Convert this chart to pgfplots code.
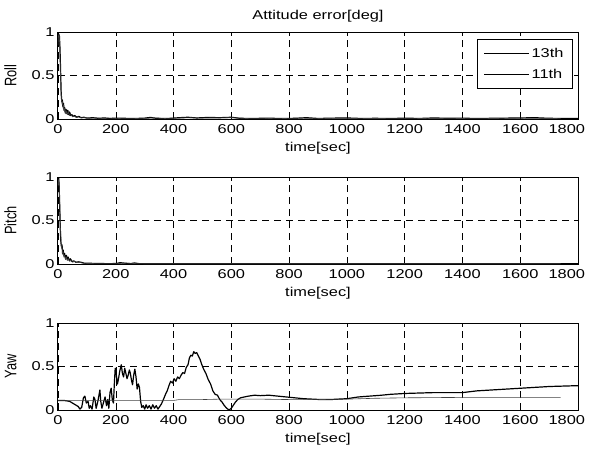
\documentclass[border=0pt]{standalone}
\usepackage{fontspec}
\setmainfont{Liberation Sans}[FakeStretch=1.28]
\newfontfamily\plainfont{Liberation Sans}
\usepackage{graphicx}
\usepackage{pgfplots}
\pgfplotsset{compat=1.18}
\pgfplotsset{
  myax/.style={
    scale only axis, width=520bp, height=87bp,
    xmin=0, xmax=1800, ymin=0, ymax=1,
    xtick={0,200,...,1800},
    xticklabels={0,200,400,600,800,1000,1200,1400,1600,\hbox to 0pt{\hss 1800\kern -7bp}},
    ytick={0,0.5,1}, yticklabels={0,0.5,1},
    grid=major,
    major grid style={black, line width=0.5bp, dash pattern=on 7bp off 5bp},
    tick align=inside, major tick length=4bp,
    tick style={black, line width=0.5bp},
    axis line style={line width=1bp},
    /pgf/number format/assume math mode=true,
    ticklabel style={font=\fontsize{12.8bp}{15bp}\selectfont},
    xticklabel style={yshift=-2bp},
    label style={font=\fontsize{12.8bp}{15bp}\selectfont},
    title style={font=\fontsize{12.8bp}{15bp}\selectfont},
    xlabel={time[sec]},
    xlabel style={yshift=-2bp},
    ylabel style={at={(axis description cs:-0.073,0.5)}, anchor=south},
  },
  s13/.style={black, line width=1.2bp, line join=round},
  s11/.style={black!75, line width=0.6bp, line join=round},
}
\begin{document}
\begin{tikzpicture}
\useasboundingbox (-58bp,0bp) rectangle (536bp,-456bp);
% ---------------- Roll
\begin{axis}[myax, at={(0bp,-32bp)}, anchor=north west,
  title={Attitude error[deg]},
  ylabel={\plainfont\scalebox{1}[1.3]{Roll}},
  legend style={at={(0.99,0.92)}, anchor=north east, draw=black, line width=0.6bp,
    font=\fontsize{12.8bp}{15bp}\selectfont, row sep=6bp, inner xsep=7bp, inner ysep=7bp},
  legend cell align=left,
  legend image code/.code={\draw[#1, line width=0.5bp, black] (0bp,0bp) -- (45bp,0bp);},
]
\addplot[s13] coordinates {(0,0.9) (2,0.98) (5,0.95) (7,0.8) (9,0.55) (11,0.3) (13,0.2) (15,0.22) (17,0.14) (19,0.18) (21,0.1) (23,0.13) (25,0.07) (28,0.11) (31,0.06) (34,0.1) (37,0.05) (40,0.08) (44,0.04) (48,0.05) (52,0.03) (58,0.04) (65,0.02) (72,0.03) (80,0.015) (90,0.02) (100,0.01) (120,0.015) (140,0.008) (160,0.012) (180,0.006) (200,0.01) (230,0.008) (260,0.005) (300,0.01) (320,0.018) (340,0.008) (380,0.006) (420,0.015) (450,0.02) (480,0.012) (520,0.018) (560,0.015) (600,0.02) (630,0.008) (680,0.006) (720,0.01) (780,0.005) (820,0.008) (860,0.015) (900,0.006) (950,0.01) (1000,0.012) (1050,0.006) (1100,0.008) (1150,0.005) (1200,0.01) (1250,0.006) (1300,0.012) (1350,0.008) (1400,0.01) (1450,0.005) (1500,0.008) (1550,0.01) (1600,0.012) (1650,0.015) (1700,0.008) (1750,0.006) (1800,0.005)};
\addlegendentry{13th}
\addplot[s11] coordinates {(0,0.85) (2,0.96) (4,0.97) (6,0.85) (8,0.6) (10,0.35) (12,0.22) (14,0.17) (16,0.2) (18,0.12) (20,0.16) (22,0.09) (24,0.12) (27,0.06) (30,0.09) (33,0.05) (36,0.08) (40,0.04) (45,0.05) (50,0.025) (56,0.03) (62,0.02) (70,0.025) (80,0.012) (95,0.015) (110,0.008) (130,0.012) (150,0.006) (175,0.01) (210,0.006) (250,0.008) (290,0.004) (330,0.012) (370,0.006) (410,0.01) (460,0.014) (500,0.01) (550,0.012) (600,0.015) (650,0.006) (700,0.008) (760,0.004) (840,0.01) (920,0.005) (980,0.008) (1040,0.005) (1120,0.006) (1200,0.008) (1280,0.005) (1360,0.007) (1440,0.004) (1520,0.006) (1600,0.01) (1680,0.006) (1740,0.005)};
\addlegendentry{11th}
\end{axis}
% ---------------- Pitch
\begin{axis}[myax, at={(0bp,-177bp)}, anchor=north west,
  ylabel={\plainfont\scalebox{1}[1.3]{Pitch}},
]
\addplot[s13] coordinates {(0,0.95) (2,1.0) (4,0.9) (6,0.65) (8,0.4) (10,0.25) (12,0.2) (14,0.22) (16,0.12) (18,0.16) (20,0.1) (23,0.12) (26,0.06) (29,0.1) (32,0.05) (35,0.08) (39,0.04) (43,0.06) (48,0.03) (55,0.035) (62,0.02) (70,0.025) (80,0.02) (90,0.01) (110,0.008) (140,0.006) (170,0.004) (200,0.005) (215,0.015) (230,0.01) (250,0.004) (265,0.012) (280,0.004) (320,0.003) (400,0.004) (500,0.003) (600,0.004) (700,0.003) (800,0.003) (900,0.004) (1000,0.003) (1100,0.003) (1200,0.004) (1300,0.003) (1400,0.003) (1500,0.004) (1600,0.003) (1700,0.003) (1800,0.003)};
\addplot[s11] coordinates {(0,0.9) (2,0.97) (4,0.95) (6,0.7) (8,0.45) (10,0.3) (12,0.18) (14,0.2) (16,0.11) (18,0.14) (20,0.08) (23,0.1) (26,0.05) (29,0.08) (32,0.04) (36,0.06) (40,0.03) (45,0.04) (50,0.02) (58,0.03) (66,0.015) (75,0.02) (85,0.01) (100,0.006) (130,0.005) (160,0.004) (200,0.004) (240,0.01) (270,0.004) (320,0.003) (420,0.003) (520,0.003) (620,0.003) (720,0.003) (820,0.003) (920,0.003) (1020,0.003) (1120,0.003) (1220,0.003) (1320,0.003) (1420,0.003) (1520,0.003) (1620,0.003) (1740,0.003)};
\end{axis}
% ---------------- Yaw
\begin{axis}[myax, at={(0bp,-323bp)}, anchor=north west,
  ylabel={\plainfont\scalebox{1}[1.3]{Yaw}},
]
\addplot[s13] coordinates {(0,0.11) (20,0.11) (40,0.1) (60,0.06) (70,0.04) (76,0.01) (82,0.03) (88,0.14) (93,0.16) (98,0.08) (104,0.1) (108,0.02) (112,0.05) (118,0.01) (124,0.15) (128,0.12) (132,0.02) (138,0.1) (145,0.23) (148,0.1) (152,0.02) (157,0.08) (163,0.15) (168,0.05) (172,0.12) (176,0.02) (180,0.2) (184,0.25) (188,0.12) (192,0.08) (195,0.3) (198,0.48) (202,0.4) (206,0.3) (210,0.37) (214,0.45) (219,0.52) (223,0.42) (227,0.38) (231,0.48) (235,0.42) (239,0.36) (243,0.4) (247,0.46) (250,0.43) (254,0.35) (258,0.29) (262,0.4) (266,0.47) (270,0.38) (274,0.24) (278,0.3) (282,0.26) (286,0.1) (290,0.03) (295,0.05) (300,0.01) (305,0.06) (310,0.02) (316,0.05) (322,0.01) (328,0.06) (334,0.02) (340,0.05) (346,0.01) (352,0.04) (358,0.07) (366,0.13) (372,0.18) (378,0.22) (384,0.28) (390,0.33) (396,0.31) (402,0.36) (408,0.33) (414,0.38) (420,0.36) (426,0.4) (432,0.43) (438,0.42) (444,0.49) (450,0.52) (455,0.6) (460,0.63) (465,0.62) (470,0.67) (475,0.65) (480,0.66) (486,0.62) (492,0.58) (498,0.52) (504,0.47) (512,0.42) (520,0.35) (528,0.3) (536,0.22) (544,0.18) (552,0.17) (560,0.12) (568,0.09) (576,0.05) (584,0.02) (592,0.0) (600,0.02) (606,0.05) (614,0.09) (622,0.12) (632,0.14) (645,0.15) (660,0.16) (680,0.17) (700,0.165) (730,0.17) (760,0.16) (790,0.15) (820,0.14) (850,0.13) (880,0.125) (910,0.12) (940,0.12) (970,0.125) (1000,0.13) (1040,0.15) (1080,0.16) (1120,0.17) (1150,0.18) (1200,0.19) (1250,0.195) (1300,0.2) (1350,0.2) (1400,0.2) (1450,0.22) (1500,0.23) (1550,0.24) (1600,0.25) (1650,0.26) (1700,0.27) (1750,0.275) (1800,0.28)};
\addplot[s11] coordinates {(0,0.11) (100,0.11) (200,0.11) (300,0.11) (400,0.11) (420,0.12) (500,0.12) (560,0.125) (700,0.125) (800,0.12) (900,0.12) (1000,0.125) (1100,0.135) (1200,0.14) (1400,0.145) (1600,0.145) (1740,0.145)};
\end{axis}
\end{tikzpicture}
\end{document}
